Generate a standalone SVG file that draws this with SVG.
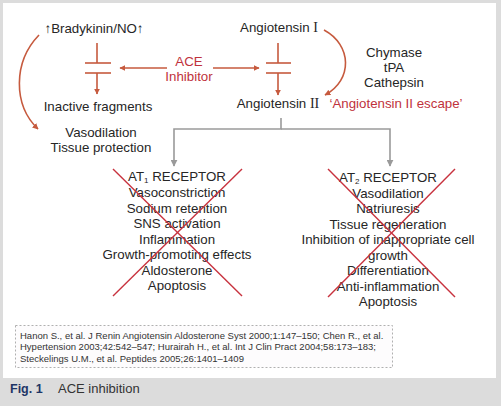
<svg xmlns="http://www.w3.org/2000/svg" width="501" height="406" viewBox="0 0 501 406">
<defs>
<style>
.t{font-family:"Liberation Sans","Noto Sans CJK KR",sans-serif;font-size:13.3px;fill:#262626;text-anchor:middle}
.red{fill:#c0323c}
.rn{font-family:"Liberation Serif",serif;font-size:14px}
.rl{stroke:#c65a3e;stroke-width:1.6;fill:none}
.gl{stroke:#9a9a9a;stroke-width:1.6;fill:none}
.x{stroke:#c8323e;stroke-width:1.4}
.ref{font-family:"Liberation Sans",sans-serif;font-size:9.5px;fill:#333}
.sub{font-size:8px}
</style>
<marker id="ar" viewBox="0 0 10 10" refX="9" refY="5" markerWidth="6" markerHeight="6" orient="auto" markerUnits="userSpaceOnUse">
<path d="M0,0 L10,5 L0,10 z" fill="#c65a3e"/>
</marker>
<marker id="ag" viewBox="0 0 10 10" refX="9" refY="5" markerWidth="7" markerHeight="7" orient="auto" markerUnits="userSpaceOnUse">
<path d="M0,0 L10,5 L0,10 z" fill="#9a9a9a"/>
</marker>
</defs>
<rect width="501" height="406" fill="#dcdcdc"/>
<rect x="3" y="3" width="493" height="375" fill="#ffffff"/>

<g id="connectors">
<path class="rl" d="M39,35 C13,62 13,105 38,129" marker-end="url(#ar)"/>
<path class="rl" d="M324,30 C352,45 353,80 325,95" marker-end="url(#ar)"/>
<line class="rl" x1="167" y1="68" x2="120" y2="68" marker-end="url(#ar)"/>
<line class="rl" x1="213" y1="68" x2="259" y2="68" marker-end="url(#ar)"/>
<line class="rl" x1="97" y1="43" x2="97" y2="63"/>
<line class="rl" x1="85" y1="63" x2="111" y2="63"/>
<line class="rl" x1="85" y1="73" x2="111" y2="73"/>
<line class="rl" x1="97" y1="73" x2="97" y2="94" marker-end="url(#ar)"/>
<line class="rl" x1="278" y1="43" x2="278" y2="63"/>
<line class="rl" x1="266" y1="63" x2="291" y2="63"/>
<line class="rl" x1="266" y1="73" x2="291" y2="73"/>
<line class="rl" x1="278" y1="73" x2="278" y2="95" marker-end="url(#ar)"/>
<polyline class="gl" points="281,118 281,129 174,129 174,166" marker-end="url(#ag)"/>
<polyline class="gl" points="281,129 390,129 390,166" marker-end="url(#ag)"/>
</g>

<g id="bradykinin"><text class="t" x="94" y="33">↑Bradykinin/NO↑</text></g>
<g id="angiotensin1"><text class="t" x="279" y="32">Angiotensin <tspan class="rn">I</tspan></text></g>
<g id="ace-inhibitor"><text class="t red" x="189" y="66">ACE</text><text class="t red" x="189" y="81">Inhibitor</text></g>
<g id="enzymes"><text class="t" x="394" y="57">Chymase</text><text class="t" x="394" y="72">tPA</text><text class="t" x="394" y="87">Cathepsin</text></g>
<g id="inactive"><text class="t" x="98" y="111">Inactive fragments</text></g>
<g id="angiotensin2"><text class="t" x="278" y="108">Angiotensin <tspan class="rn">II</tspan></text></g>
<g id="escape"><text class="t red" x="396" y="108">‘Angiotensin II escape’</text></g>
<g id="vasodilation"><text class="t" x="101" y="137">Vasodilation</text><text class="t" x="101" y="152">Tissue protection</text></g>

<g id="at1">
<text class="t" x="177" y="181">AT<tspan class="sub" dy="2">1</tspan><tspan dy="-2"> RECEPTOR</tspan></text>
<text class="t" x="177" y="197">Vasoconstriction</text>
<text class="t" x="177" y="212.5">Sodium retention</text>
<text class="t" x="177" y="228">SNS activation</text>
<text class="t" x="177" y="243.5">Inflammation</text>
<text class="t" x="177" y="259">Growth-promoting effects</text>
<text class="t" x="177" y="274.5">Aldosterone</text>
<text class="t" x="177" y="290">Apoptosis</text>
<line class="x" x1="113" y1="169" x2="242" y2="296"/>
<line class="x" x1="242" y1="169" x2="113" y2="296"/>
</g>

<g id="at2">
<text class="t" x="388" y="182">AT<tspan class="sub" dy="2">2</tspan><tspan dy="-2"> RECEPTOR</tspan></text>
<text class="t" x="388" y="197.5">Vasodilation</text>
<text class="t" x="388" y="213">Natriuresis</text>
<text class="t" x="388" y="228.5">Tissue regeneration</text>
<text class="t" x="388" y="244">Inhibition of inappropriate cell</text>
<text class="t" x="388" y="259.5">growth</text>
<text class="t" x="388" y="275">Differentiation</text>
<text class="t" x="388" y="290.5">Anti-inflammation</text>
<text class="t" x="388" y="306">Apoptosis</text>
<line class="x" x1="328" y1="169" x2="455" y2="297"/>
<line class="x" x1="455" y1="169" x2="328" y2="297"/>
</g>

<g id="references">
<rect x="15.5" y="325.5" width="377" height="42" fill="#fdfcfd" stroke="#b0b0b0" stroke-width="1" stroke-dasharray="2,2"/>
<text class="ref" x="20" y="338.5">Hanon S., et al. J Renin Angiotensin Aldosterone Syst 2000;1:147–150; Chen R., et al.</text>
<text class="ref" x="20" y="350">Hypertension 2003;42:542–547; Hurairah H., et al. Int J Clin Pract 2004;58:173–183;</text>
<text class="ref" x="20" y="361.5">Steckelings U.M., et al. Peptides 2005;26:1401–1409</text>
</g>

<g id="caption">
<text x="10" y="393" font-family="Liberation Sans,sans-serif" font-size="12.5" font-weight="bold" fill="#1e3566">Fig. 1</text>
<text x="58" y="393" font-family="Liberation Sans,sans-serif" font-size="13" fill="#333">ACE inhibition</text>
</g>
</svg>
